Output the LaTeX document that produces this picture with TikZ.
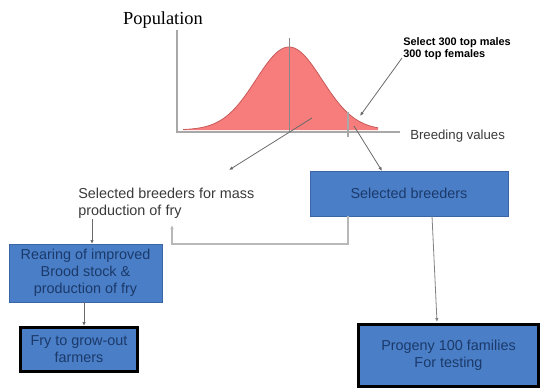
\documentclass[tikz,border=0pt]{standalone}
\usepackage{fontspec}
\setmainfont{Liberation Serif}
\setsansfont{Liberation Sans}
\usetikzlibrary{arrows.meta,calc}
\definecolor{boxblue}{HTML}{4A7EC6}
\definecolor{boxedge}{HTML}{3A66A8}
\definecolor{boxtext}{HTML}{1B3A6B}
\definecolor{bellred}{HTML}{F77C7C}
\definecolor{belledge}{HTML}{C85A5A}
\definecolor{axisgray}{HTML}{A8A8A8}
\definecolor{linegray}{HTML}{6A6A6A}
\definecolor{lightline}{HTML}{B8B8B8}
\definecolor{labeltext}{HTML}{3A3A3A}
\begin{document}
\begin{tikzpicture}[x=0.75pt,y=-0.75pt,
  box/.style={draw=boxedge, line width=0.6pt, fill=boxblue,
    font=\sffamily\fontsize{10.8}{12.6}\selectfont, text=boxtext,
    align=center, inner sep=0pt},
  thickbox/.style={box, draw=black, line width=2.2pt},
  arr/.style={draw=linegray, line width=0.6pt, -{Latex[length=3pt,width=2.6pt]}},
  sanslabel/.style={font=\sffamily\fontsize{10.8}{12.8}\selectfont, text=labeltext, inner sep=0pt}
]
\useasboundingbox (0,0) rectangle (542,390);

% bell curve
\fill[bellred] (183,130) -- plot[domain=183:378,samples=100] (\x,{130-83*exp(-((\x-289)/33)^2/2)}) -- (378,130) -- cycle;
\draw[belledge, line width=0.6pt] plot[domain=183:378,samples=100] (\x,{130-83*exp(-((\x-289)/33)^2/2)});
% axes
\draw[axisgray, line width=1.1pt] (177,30) -- (177,132) -- (400,132);
\draw[linegray!80, line width=0.6pt] (289,38) -- (289,132);
\draw[axisgray, line width=0.8pt] (348,112) -- (348,137);

% texts
\node[font=\fontsize{13.8}{15}\selectfont, inner sep=0pt] (pop) at (163,20) {Population};
\node[font=\sffamily\bfseries\fontsize{8.2}{9}\selectfont, align=left, anchor=west, inner sep=0pt] (sel) at (403,49) {Select 300 top males\\300 top females};
\node[sanslabel, font=\sffamily\fontsize{9.9}{11}\selectfont, anchor=west] (bv) at (410,136) {Breeding values};
\node[sanslabel, align=left, anchor=west] (mass) at (78,203.5) {Selected breeders for mass\\production of fry};

% boxes
\node[box, minimum width=148.5pt, minimum height=33.75pt] (sb) at (409,193.5) {Selected breeders};
\node[box, minimum width=114.75pt, minimum height=43.5pt] (rear) at (85.5,273) {Rearing of improved\\Brood stock \&\\production of fry};
\node[thickbox, minimum width=88pt, minimum height=33pt] (fry) at (79,349.5) {Fry to grow-out\\farmers};
\node[thickbox, minimum width=135pt, minimum height=46.5pt] (prog) at (448.5,355.5) {Progeny 100 families\\For testing};

% connector coordinates
\coordinate (c1) at (312,118);
\coordinate (c2) at (229,170);
\coordinate (c3) at (354,126);
\coordinate (c4) at (382,171);
\coordinate (c5) at (402,58);
\coordinate (c6) at (360,116);
\coordinate (c7) at (348,216);
\coordinate (c8) at (348,244);
\coordinate (c9) at (172,244);
\coordinate (c10) at (172,225);
\coordinate (c11) at (92,219);
\coordinate (c12) at (92,244);
\coordinate (c13) at (84,302);
\coordinate (c14) at (84,326);
\coordinate (c15) at (432,216);
\coordinate (c16) at (437,322);

\draw[arr] (c1) -- (c2);
\draw[arr] (c3) -- (c4);
\draw[arr] (c5) -- (c6);
\draw[arr, draw=lightline, line width=1.1pt] (c7) -- (c8) -- (c9) -- (c10);
\draw[arr] (c11) -- (c12);
\draw[arr] (c13) -- (c14);
\draw[arr, draw=lightline!70!black] (c15) -- (c16);
\end{tikzpicture}
\end{document}
